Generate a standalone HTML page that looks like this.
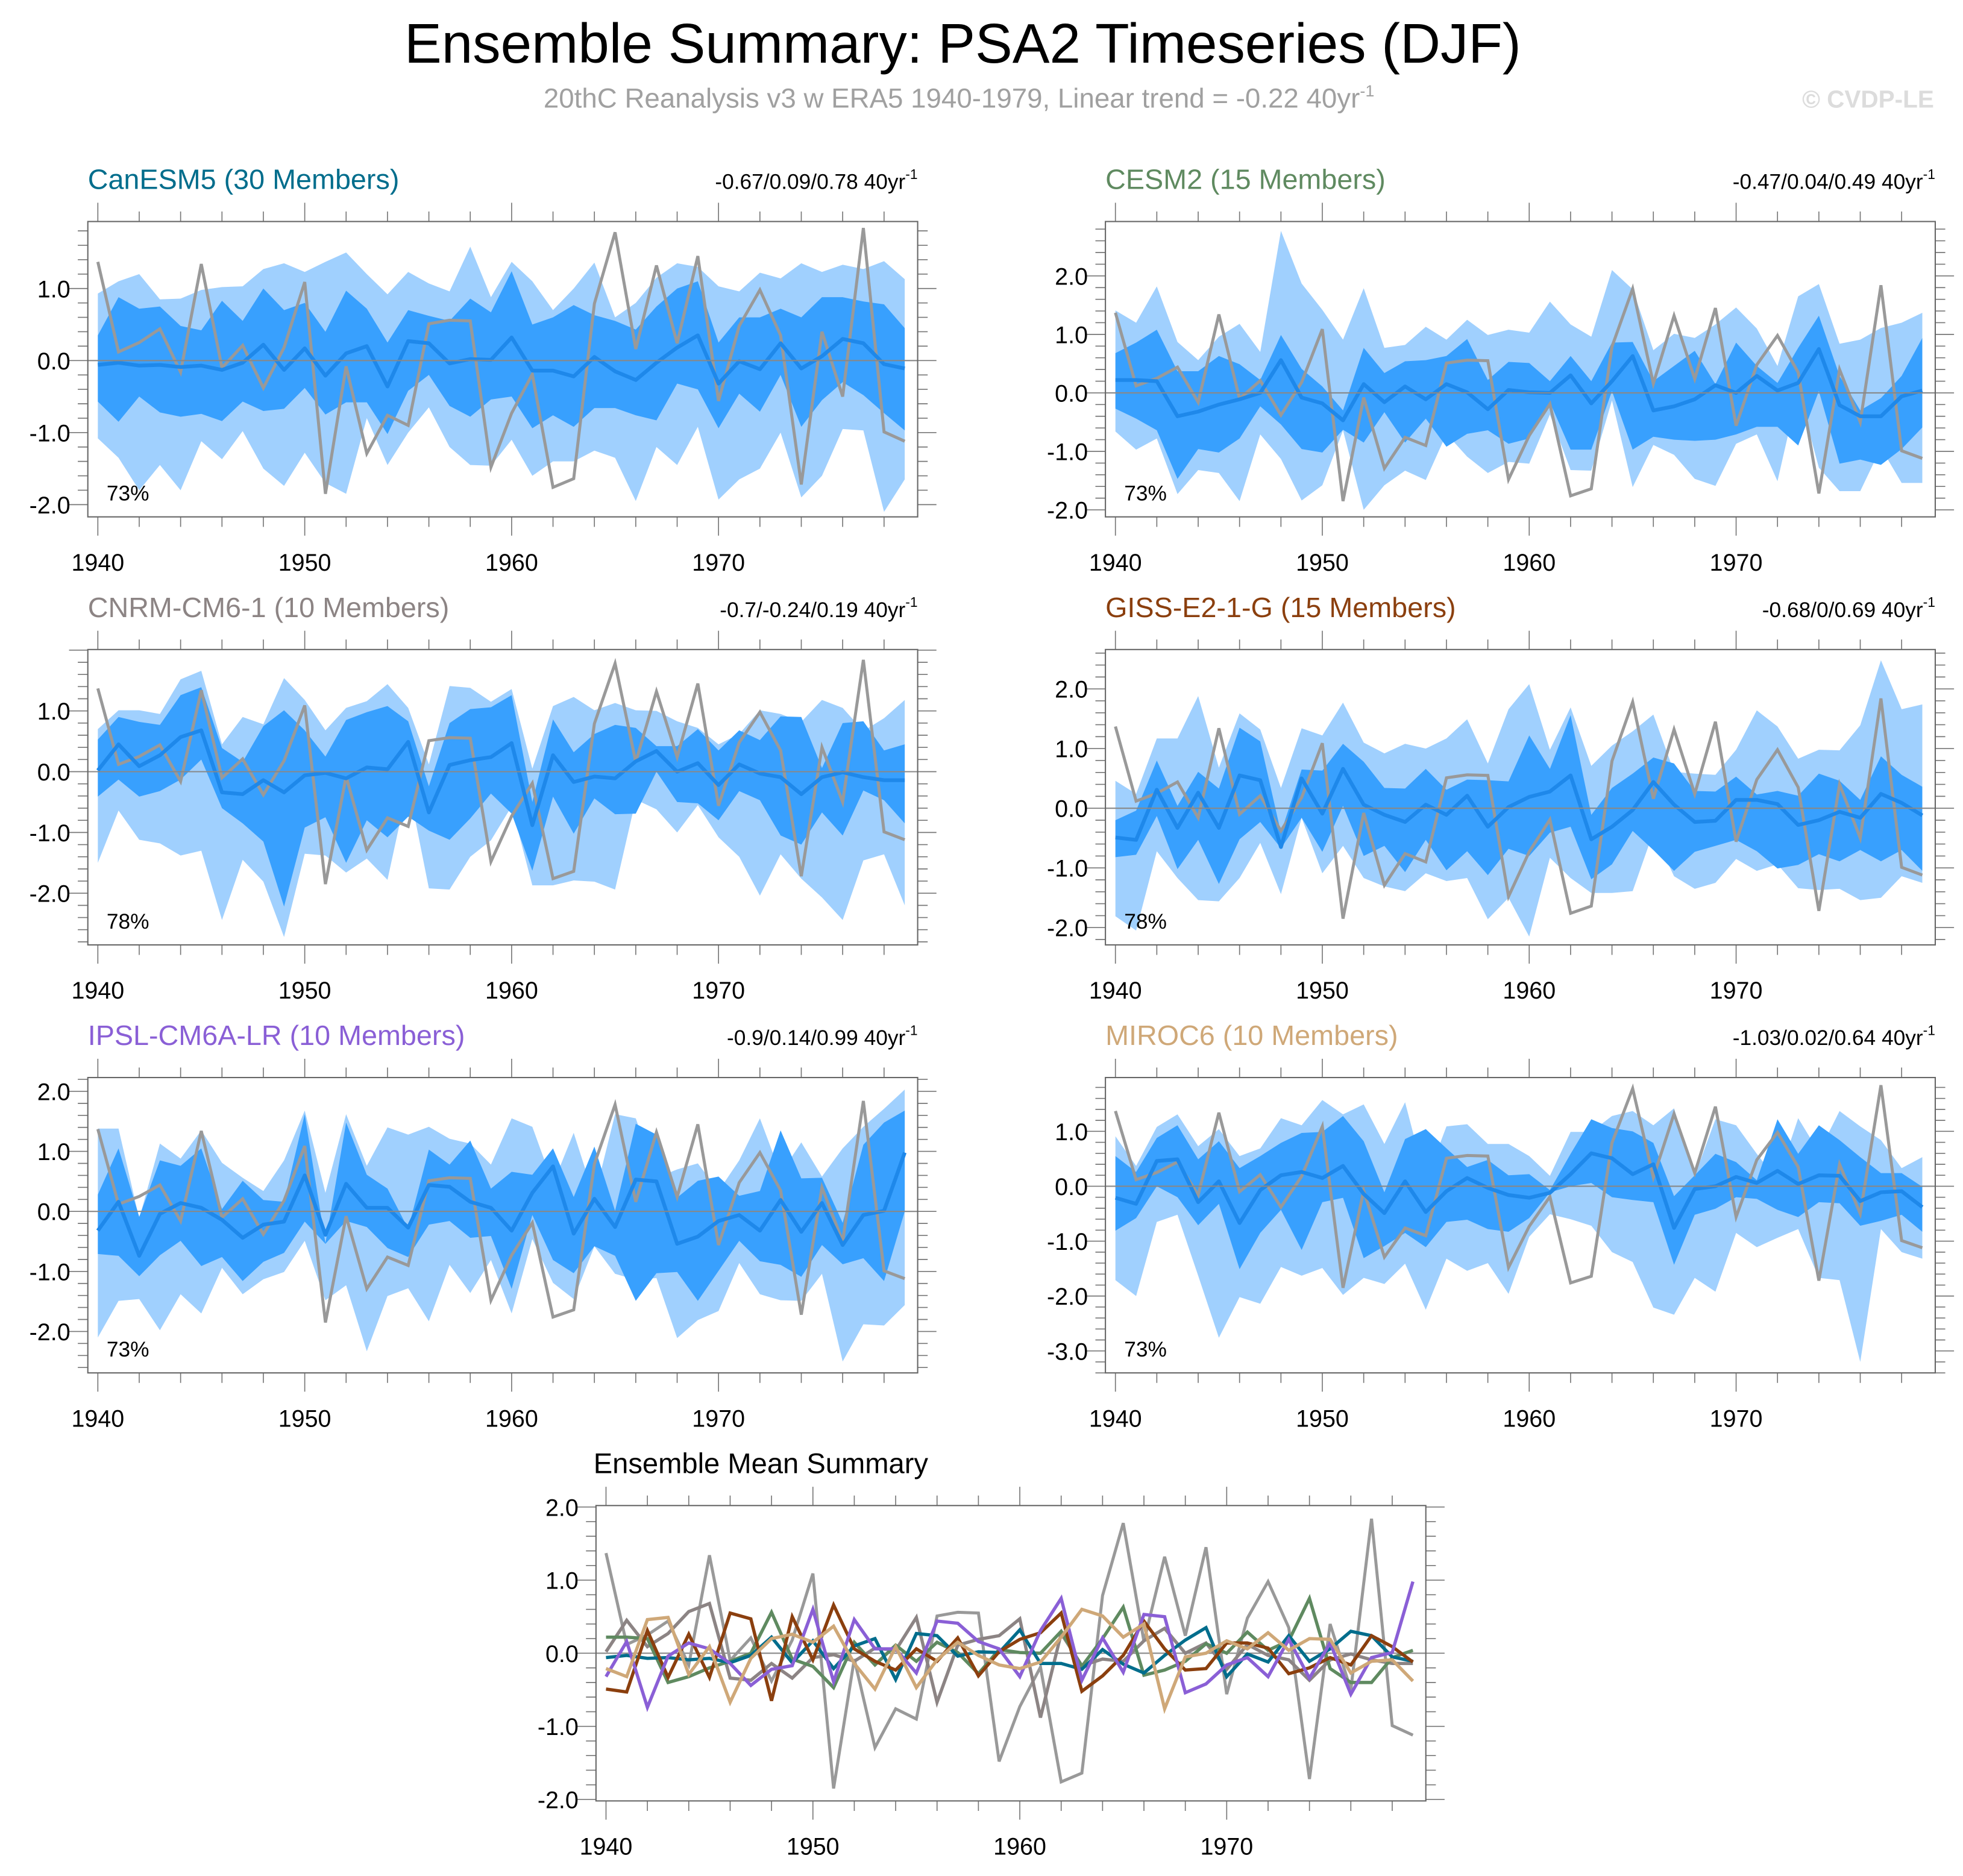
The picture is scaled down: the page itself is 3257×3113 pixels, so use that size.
<!DOCTYPE html>
<html><head><meta charset="utf-8"><title>Ensemble Summary: PSA2 Timeseries (DJF)</title>
<style>
html,body{margin:0;padding:0;background:#fff;}
svg{display:block;font-family:"Liberation Sans",sans-serif;}
</style></head>
<body>
<svg id="chart" width="3257" height="3113" viewBox="0 0 1568 1499" xmlns="http://www.w3.org/2000/svg">
<text x="769" y="50" font-size="44.6" text-anchor="middle" fill="#000">Ensemble Summary: PSA2 Timeseries (DJF)</text>
<text x="766" y="86" font-size="22" text-anchor="middle" fill="#a0a0a0">20thC Reanalysis v3 w ERA5 1940-1979, Linear trend = -0.22 40yr<tspan dy="-9" font-size="13">-1</tspan></text>
<text x="1545" y="86" font-size="19.5" font-weight="bold" text-anchor="end" fill="#dcdcdc">© CVDP-LE</text>
<g id="plots"></g>
</svg>
<script>
const years = Array.from({length:40},(_,i)=>1940+i);
const obs = [1.37,0.12,0.25,0.44,-0.16,1.34,-0.10,0.21,-0.38,0.18,1.09,-1.85,-0.08,-1.29,-0.76,-0.90,0.51,0.56,0.55,-1.48,-0.73,-0.19,-1.76,-1.64,0.79,1.78,0.16,1.32,0.24,1.45,-0.56,0.48,0.98,0.35,-1.72,0.40,-0.50,1.84,-0.99,-1.12];

const canMean=[-0.06,-0.03,-0.07,-0.06,-0.09,-0.07,-0.13,-0.03,0.22,-0.13,0.17,-0.21,0.1,0.2,-0.36,0.27,0.24,-0.04,0.02,0.01,0.32,-0.14,-0.14,-0.22,0.05,-0.15,-0.27,-0.03,0.18,0.35,-0.32,-0.01,-0.12,0.24,-0.11,0.06,0.3,0.24,-0.05,-0.11];
const canDHi=[0.35,0.88,0.72,0.75,0.48,0.42,0.83,0.55,1.0,0.7,0.8,0.4,0.97,0.72,0.25,0.7,0.62,0.55,0.86,0.67,1.24,0.5,0.6,0.77,0.63,0.55,0.43,0.75,1.0,1.1,0.25,0.6,0.6,0.72,0.6,0.88,0.88,0.82,0.78,0.45];
const canDLo=[-0.57,-0.85,-0.5,-0.72,-0.78,-0.74,-0.84,-0.57,-0.7,-0.67,-0.38,-0.75,-0.58,-0.58,-1.02,-0.42,-0.2,-0.63,-0.78,-0.54,-0.5,-0.94,-0.76,-0.92,-0.66,-0.66,-0.76,-0.83,-0.32,-0.4,-0.94,-0.46,-0.71,-0.2,-0.92,-0.55,-0.3,-0.48,-0.73,-0.97];
const canLHi=[0.93,1.1,1.2,0.85,0.86,0.98,1.02,1.03,1.27,1.35,1.23,1.37,1.5,1.2,0.92,1.23,1.07,0.96,1.58,0.88,1.37,1.1,0.7,1.0,1.36,0.6,0.8,1.15,1.35,1.3,1.03,0.96,1.22,1.14,1.35,1.23,1.33,1.27,1.38,1.13];
const canLLo=[-1.08,-1.35,-1.8,-1.45,-1.8,-1.12,-1.37,-0.98,-1.5,-1.74,-1.28,-1.7,-1.85,-0.8,-1.45,-1.0,-0.65,-1.2,-1.45,-1.46,-1.1,-1.6,-1.4,-1.4,-1.25,-1.35,-1.95,-1.2,-1.45,-0.92,-1.93,-1.65,-1.5,-1.0,-1.9,-1.6,-0.95,-0.97,-2.1,-1.65];

const cesMean=[0.22,0.22,0.2,-0.4,-0.32,-0.2,-0.11,0,0.56,-0.08,-0.18,-0.47,0.15,-0.16,0.11,-0.11,0.15,0.01,-0.28,0.05,0.01,0,0.3,-0.18,0.2,0.63,-0.3,-0.23,-0.11,0.13,0,0.29,0.04,0.17,0.75,-0.21,-0.4,-0.4,-0.06,0.04];
const cesDHi=[0.68,0.86,1.08,0.37,0.37,0.63,0.49,0.22,0.99,0.41,0.11,-0.3,0.77,0.34,0.54,0.56,0.63,0.92,0.22,0.53,0.51,0.2,0.63,0.2,0.86,0.87,0.2,0.46,0.72,0.15,0.86,0.46,0.17,0.77,1.32,0.29,-0.3,-0.09,0.29,0.94];
const cesDLo=[-0.27,-0.44,-0.64,-1.47,-0.96,-1.02,-0.78,-0.23,-0.54,-0.96,-1.02,-0.63,-0.85,-0.33,-0.85,-0.44,-0.92,-0.7,-0.64,-0.87,-0.78,-0.16,-0.97,-0.97,0.03,-0.97,-0.75,-0.8,-0.82,-0.8,-0.71,-0.58,-0.58,-0.9,0.03,-1.21,-1.14,-1.23,-0.96,-0.59];
const cesLHi=[1.41,1.2,1.82,0.87,0.56,0.96,1.18,0.7,2.77,1.87,1.42,0.91,1.79,0.77,0.82,1.13,0.91,1.25,0.99,1.08,1.03,1.56,1.17,0.96,2.1,1.77,0.73,1.01,0.94,1.17,1.46,1.1,0.46,1.65,1.86,0.84,0.91,1.11,1.2,1.37];
const cesLLo=[-0.66,-0.97,-0.78,-1.73,-1.32,-1.37,-1.85,-0.71,-1.13,-1.84,-1.58,-0.64,-2.0,-1.58,-1.33,-1.49,-0.7,-1.09,-1.37,-1.18,-1.21,-0.37,-1.32,-1.33,-0.13,-1.61,-0.89,-1.06,-1.47,-1.59,-0.87,-0.71,-1.51,0.04,-1.28,-1.68,-1.68,-0.94,-1.54,-1.54];

const cnrMean=[0.02,0.45,0.09,0.27,0.57,0.68,-0.34,-0.37,-0.14,-0.34,-0.06,-0.02,-0.11,0.07,0.04,0.49,-0.67,0.11,0.19,0.24,0.47,-0.88,0.27,-0.17,-0.08,-0.11,0.17,0.34,0,0.14,-0.22,0.12,-0.03,-0.09,-0.37,-0.09,-0.01,-0.09,-0.14,-0.14];
const cnrDHi=[0.53,0.9,0.82,0.77,1.26,1.39,0.39,0.16,0.75,1.01,0.68,0.25,0.85,0.98,1.08,0.83,-0.24,0.8,1.03,1.06,1.26,-0.5,0.86,0.32,0.62,0.77,0.72,0.42,0.42,0.7,0.35,0.68,0.52,0.91,0.9,0.06,0.8,0.83,0.35,0.45];
const cnrDLo=[-0.41,-0.13,-0.41,-0.32,-0.13,0.2,-0.6,-0.85,-1.15,-2.22,-0.92,-0.75,-1.5,-0.8,-1.08,-0.74,-0.97,-1.12,-0.77,-0.36,-0.69,-1.63,-0.41,-1.02,-0.44,-0.7,-0.69,0,-0.5,-0.52,-0.8,-0.32,-0.47,-1.05,-1.2,-0.67,-1.05,-0.31,-0.47,-0.85];
const cnrLHi=[0.7,1.01,1.01,0.95,1.52,1.66,0.45,0.9,0.78,1.54,1.18,0.68,1.05,1.16,1.44,1.05,0.12,1.41,1.38,1.15,1.36,0.05,1.08,1.23,1.01,1.13,1.01,1.0,0.83,0.72,0.45,0.62,1.01,0.95,0.82,1.18,1.05,0.67,0.88,1.18];
const cnrLLo=[-1.5,-0.64,-1.12,-1.18,-1.38,-1.3,-2.44,-1.45,-1.81,-2.72,-1.35,-1.38,-1.66,-1.43,-1.78,-0.21,-1.92,-1.94,-1.4,-1.13,-0.57,-1.87,-1.87,-1.79,-1.81,-1.94,-0.46,-0.62,-1.0,-0.55,-1.08,-1.4,-2.04,-1.36,-1.76,-2.07,-2.44,-1.46,-1.36,-2.2];

const gisMean=[-0.49,-0.53,0.31,-0.33,0.26,-0.33,0.55,0.47,-0.65,0.5,-0.09,0.66,0.06,-0.11,-0.23,0.06,-0.11,0.21,-0.31,0.02,0.19,0.28,0.55,-0.52,-0.31,-0.03,0.44,0.06,-0.23,-0.21,0.14,0.14,0.07,-0.28,-0.2,-0.06,-0.16,0.24,0.09,-0.12];
const gisDHi=[-0.2,-0.04,0.8,0.04,0.61,0.33,1.35,1.12,-0.41,0.65,0.63,1.08,0.78,0.34,0.33,0.66,0.31,0.48,0.47,0.45,1.22,0.66,1.56,-0.11,0.34,0.58,0.85,0.75,0.29,0.28,0.53,0.23,0.29,0.21,0.58,0.46,0.14,0.87,0.56,0.36];
const gisDLo=[-0.82,-0.78,-0.13,-1.02,-0.53,-1.27,-0.52,-0.23,-0.67,-0.16,-0.73,0.04,-0.8,-0.63,-1.07,-0.53,-1.04,-0.72,-1.12,-0.68,-0.8,-0.41,-0.31,-1.19,-0.94,-0.38,-0.7,-1.05,-0.73,-0.63,-0.53,-0.72,-1.01,-0.95,-0.77,-0.89,-0.7,-0.89,-0.7,-1.05];
const gisLHi=[0.46,0.24,1.17,1.17,1.88,0.68,1.59,1.32,0.34,1.34,1.22,1.77,1.1,0.92,1.08,1.0,1.17,1.49,0.75,1.66,2.08,0.98,1.69,0.71,1.05,1.29,1.57,0.61,0.58,0.56,0.98,1.64,1.37,0.83,0.98,0.97,1.39,2.48,1.66,1.74];
const gisLLo=[-1.81,-2.05,-0.72,-1.17,-1.54,-1.56,-1.17,-0.58,-1.44,-0.16,-1.09,-0.63,-1.17,-1.31,-1.39,-1.09,-1.22,-1.17,-1.86,-1.5,-2.15,-0.83,-1.17,-1.42,-1.42,-1.39,-0.4,-1.14,-1.35,-1.25,-0.85,-1.05,-0.94,-1.34,-1.37,-1.35,-1.54,-1.5,-1.14,-1.25];

const ipsMean=[-0.32,0.16,-0.74,-0.04,0.14,0.06,-0.14,-0.44,-0.22,-0.17,0.6,-0.39,0.46,0.06,0.06,-0.27,0.44,0.41,0.16,0.06,-0.32,0.31,0.75,-0.37,0.21,-0.26,0.53,0.5,-0.54,-0.42,-0.16,-0.06,-0.32,0.19,-0.34,0.14,-0.56,-0.06,0.01,0.98];
const ipsDHi=[0.28,1.05,-0.09,0.85,0.76,1.05,0.04,0.51,0.19,0.16,1.62,-0.53,1.48,0.61,0.38,-0.29,1.03,0.78,1.18,0.38,0.66,0.61,1.05,0.24,1.08,0.01,1.46,1.28,0.23,0.51,0.58,0.26,0.34,1.35,0.55,0.56,-0.19,1.11,1.48,1.68];
const ipsDLo=[-0.71,-0.74,-1.08,-0.73,-0.49,-0.91,-0.76,-1.16,-0.84,-0.69,-0.17,-0.54,-0.16,-0.26,-0.61,-0.76,-0.22,-0.16,-0.44,-0.41,-1.29,-0.06,-0.81,-1.03,-0.58,-0.74,-1.49,-1.03,-1.01,-1.49,-0.99,-0.49,-0.83,-0.89,-1.09,-0.56,-0.88,-0.78,-1.16,0.0];
const ipsLHi=[1.38,1.38,-0.12,1.13,0.88,1.35,0.81,0.56,0.34,0.85,1.68,0.31,1.62,0.76,1.4,1.28,1.41,1.21,1.13,0.78,1.55,1.41,0.46,1.31,0.23,1.62,1.55,0.56,0.7,0.8,0.34,0.85,1.55,0.63,1.15,0.58,1.05,1.41,1.71,2.03];
const ipsLLo=[-2.1,-1.49,-1.46,-1.98,-1.38,-1.7,-0.94,-1.38,-1.13,-1.01,-0.49,-1.48,-1.23,-2.33,-1.41,-1.28,-1.83,-0.89,-1.36,-0.81,-1.7,-0.46,-1.19,-1.46,-0.58,-1.04,-1.14,-1.11,-2.11,-1.81,-1.66,-0.86,-1.38,-1.48,-1.49,-1.04,-2.5,-1.88,-1.9,-1.56];

const mirMean=[-0.21,-0.32,0.46,0.49,-0.29,0.09,-0.67,-0.07,0.2,0.26,0.15,0.37,-0.14,-0.49,0.09,-0.47,-0.09,0.15,-0.03,-0.16,-0.21,-0.12,0.22,0.6,0.51,0.22,0.4,-0.76,-0.05,0,0.17,0.06,0.28,0.04,0.2,0.19,-0.27,-0.11,-0.09,-0.38];
const mirDHi=[0.55,0.26,0.88,1.11,0.49,0.82,0.33,0.55,0.79,0.97,0.99,1.28,0.82,-0.11,0.86,1.04,0.69,0.35,0.48,0.2,0.22,-0.07,0.59,1.22,1.06,1.0,0.79,-0.18,0.2,0.59,0.44,0.11,1.22,0.59,1.11,0.84,0.53,0.24,0.24,-0.01];
const mirDLo=[-0.81,-0.58,0,-0.2,-0.71,-0.32,-1.51,-0.85,-0.43,-1.16,-0.29,-0.21,-1.31,-1.09,-0.85,-1.11,-0.65,-0.61,-0.78,-0.83,-0.58,-0.11,0,0.06,-0.2,-0.25,-0.29,-1.43,-0.52,-0.41,-0.2,-0.23,-0.43,-0.56,-0.29,-0.31,-0.72,-0.63,-0.52,-0.83];
const mirLHi=[0.91,0.37,1.08,1.31,0.73,1.04,0.55,0.69,1.24,1.11,1.57,1.31,1.49,0.77,1.53,0.09,1.09,1.13,0.77,0.77,0.55,0.19,0.99,0.99,1.28,1.37,1.11,1.42,0.19,1.22,1.11,0.59,0.11,1.24,0.62,1.37,1.09,0.84,0.33,0.53];
const mirLLo=[-1.71,-2.0,-0.65,-0.52,-1.63,-2.76,-2.02,-2.14,-1.47,-1.63,-1.49,-1.98,-1.67,-1.78,-1.41,-2.25,-1.32,-1.54,-1.4,-1.96,-0.92,-0.51,-0.6,-0.72,-1.2,-1.38,-2.21,-2.34,-1.67,-1.92,-0.85,-1.11,-0.94,-0.78,-1.67,-1.71,-3.2,-0.78,-1.2,-1.32];

const modelNames=["CanESM5 (30 Members)","CESM2 (15 Members)","CNRM-CM6-1 (10 Members)","GISS-E2-1-G (15 Members)","IPSL-CM6A-LR (10 Members)","MIROC6 (10 Members)"];
const trendLabels=["-0.67/0.09/0.78 40yr","-0.47/0.04/0.49 40yr","-0.7/-0.24/0.19 40yr","-0.68/0/0.69 40yr","-0.9/0.14/0.99 40yr","-1.03/0.02/0.64 40yr"];
const pctLabels=["73%","73%","78%","78%","73%","73%"];
const yTickLabels=[["1.0","0.0","-1.0","-2.0"],["2.0","1.0","0.0","-1.0","-2.0"],["1.0","0.0","-1.0","-2.0"],["2.0","1.0","0.0","-1.0","-2.0"],["2.0","1.0","0.0","-1.0","-2.0"],["1.0","0.0","-1.0","-2.0","-3.0"]];
const summaryTickLabels=["2.0","1.0","0.0","-1.0","-2.0"];
const xTickLabels=["1940","1950","1960","1970"];

const NS="http://www.w3.org/2000/svg";
const root=document.getElementById('plots');
function mk(tag,attrs,parent){const e=document.createElementNS(NS,tag);for(const k in attrs)e.setAttribute(k,attrs[k]);(parent||root).appendChild(e);return e;}

const models=[
 {m:canMean,dh:canDHi,dl:canDLo,lh:canLHi,ll:canLLo,color:"#006d8c",x:70,y:177,ymax:1.93,ymin:-2.17,slug:"canesm5"},
 {m:cesMean,dh:cesDHi,dl:cesDLo,lh:cesLHi,ll:cesLLo,color:"#5f8a60",x:883,y:177,ymax:2.93,ymin:-2.12,slug:"cesm2"},
 {m:cnrMean,dh:cnrDHi,dl:cnrDLo,lh:cnrLHi,ll:cnrLLo,color:"#8c8484",x:70,y:519,ymax:2.01,ymin:-2.85,slug:"cnrm-cm6-1"},
 {m:gisMean,dh:gisDHi,dl:gisDLo,lh:gisLHi,ll:gisLLo,color:"#8b3f0e",x:883,y:519,ymax:2.66,ymin:-2.29,slug:"giss-e2-1-g"},
 {m:ipsMean,dh:ipsDHi,dl:ipsDLo,lh:ipsLHi,ll:ipsLLo,color:"#8a5fd6",x:70,y:861,ymax:2.23,ymin:-2.69,slug:"ipsl-cm6a-lr"},
 {m:mirMean,dh:mirDHi,dl:mirDLo,lh:mirLHi,ll:mirLLo,color:"#cfa878",x:883,y:861,ymax:1.98,ymin:-3.4,slug:"miroc6"}
];
const W=663,H=236;

function axes(px,py,ymin,ymax,labels,g){
  const xs=yr=>px+8+(yr-1940)*16.53;
  const ys=v=>py+(ymax-v)/(ymax-ymin)*H;
  const z=mk('line',{x1:px,x2:px+W,y1:ys(0),y2:ys(0),stroke:'#888',"stroke-width":1},g);
  
  for(let yr=1940;yr<=1979;yr+=2){
    const maj=(yr%10===0), L=maj?15:8;
    mk('line',{x1:xs(yr),x2:xs(yr),y1:py,y2:py-L,stroke:'#777',"stroke-width":0.8},g);
    mk('line',{x1:xs(yr),x2:xs(yr),y1:py+H,y2:py+H+L,stroke:'#777',"stroke-width":0.8},g);
  }
  xTickLabels.forEach(t=>{
    const e=mk('text',{x:xs(+t),y:py+H+43,"font-size":19,"text-anchor":"middle",fill:'#000'},g);
    e.textContent=t;
    
  });
  const lo=Math.ceil(ymin*5-1e-6),hi=Math.floor(ymax*5+1e-6);
  for(let k=lo;k<=hi;k++){
    const v=k/5,maj=(k%5===0),L=maj?15:8;
    mk('line',{x1:px,x2:px-L,y1:ys(v),y2:ys(v),stroke:'#777',"stroke-width":0.8},g);
    mk('line',{x1:px+W,x2:px+W+L,y1:ys(v),y2:ys(v),stroke:'#777',"stroke-width":0.8},g);
  }
  labels.forEach(t=>{
    const e=mk('text',{x:px-14,y:ys(+t)+7,"font-size":19,"text-anchor":"end",fill:'#000'},g);
    e.textContent=t;
    
  });
  return {xs,ys};
}
function linePts(arr,xs,ys){return arr.map((v,i)=>xs(years[i]).toFixed(2)+','+ys(v).toFixed(2)).join(' ');}
function bandPts(hiA,loA,xs,ys){
  const a=hiA.map((v,i)=>xs(years[i]).toFixed(2)+','+ys(v).toFixed(2));
  const b=loA.map((v,i)=>xs(years[i]).toFixed(2)+','+ys(v).toFixed(2)).reverse();
  return a.concat(b).join(' ');
}

models.forEach((md,idx)=>{
  const g=mk('g',{});
  
  
  const t=mk('text',{x:md.x,y:md.y-26,"font-size":22.5,fill:md.color},g);
  t.textContent=modelNames[idx];
  
  const tr=mk('text',{x:md.x+W,y:md.y-26,"font-size":17,"text-anchor":"end",fill:'#000'},g);
  tr.textContent=trendLabels[idx];
  const sup=mk('tspan',{dy:-8,"font-size":11},tr);sup.textContent='-1';
  
  const clipId='clip'+idx;
  const cp=mk('clipPath',{id:clipId},g);mk('rect',{x:md.x,y:md.y,width:W,height:H},cp);
  const inner=mk('g',{"clip-path":'url(#'+clipId+')'},g);
  const ax={xs:yr=>md.x+8+(yr-1940)*16.53, ys:v=>md.y+(md.ymax-v)/(md.ymax-md.ymin)*H};
  const lb=mk('polygon',{points:bandPts(md.lh,md.ll,ax.xs,ax.ys),fill:'#a0d0fe'},inner);
  
  const db=mk('polygon',{points:bandPts(md.dh,md.dl,ax.xs,ax.ys),fill:'#38a0fe'},inner);
  
  axes(md.x,md.y,md.ymin,md.ymax,yTickLabels[idx],g);
  const ol=mk('polyline',{points:linePts(obs,ax.xs,ax.ys),fill:'none',stroke:'#999',"stroke-width":2.4,"stroke-linejoin":'miter'},inner);
  
  const ml=mk('polyline',{points:linePts(md.m,ax.xs,ax.ys),fill:'none',stroke:'#1e88ea',"stroke-width":3,"stroke-linejoin":'round'},inner);
  
  const fr=mk('rect',{x:md.x,y:md.y,width:W,height:H,fill:'none',stroke:'#666',"stroke-width":1},g);
  
  const p=mk('text',{x:md.x+15,y:md.y+H-13,"font-size":17,fill:'#000'},g);
  p.textContent=pctLabels[idx];
  
});

(function(){
  const px=476,py=1203,ymax=2.02,ymin=-2.02;
  const g=mk('g',{});
  
  
  const t=mk('text',{x:474,y:1177,"font-size":22.7,fill:'#000'},g);
  t.textContent='Ensemble Mean Summary';
  
  const ax=axes(px,py,ymin,ymax,summaryTickLabels,g);
  const cp=mk('clipPath',{id:'clipS'},g);mk('rect',{x:px,y:py,width:W,height:H},cp);
  const inner=mk('g',{"clip-path":'url(#clipS)'},g);
  const ol=mk('polyline',{points:linePts(obs,ax.xs,ax.ys),fill:'none',stroke:'#999',"stroke-width":2.4},inner);
  
  [2,1,0,3,4,5].forEach(i=>{
    const md=models[i];
    const l=mk('polyline',{points:linePts(md.m,ax.xs,ax.ys),fill:'none',stroke:md.color,"stroke-width":2.6},inner);
    
  });
  const fr=mk('rect',{x:px,y:py,width:W,height:H,fill:'none',stroke:'#666',"stroke-width":1},g);
  
})();
</script>
</body></html>
